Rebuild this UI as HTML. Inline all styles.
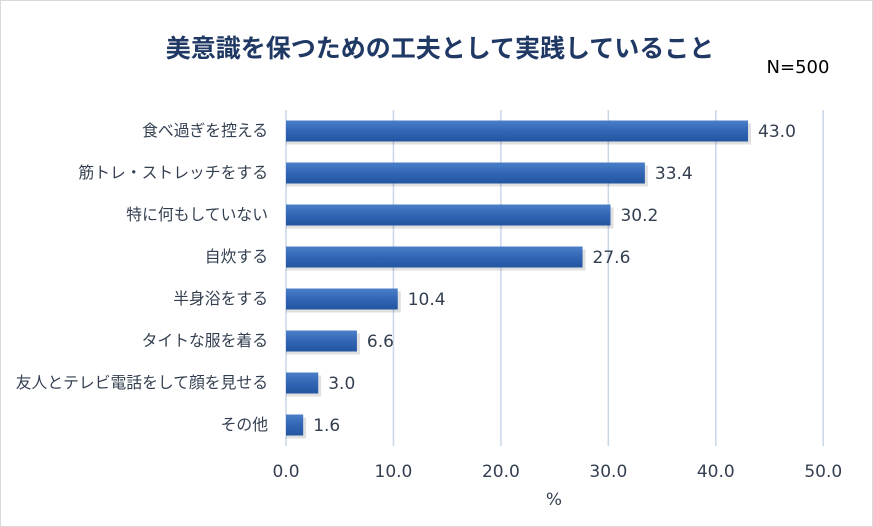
<!DOCTYPE html>
<html><head><meta charset="utf-8"><style>
body{margin:0;background:#fff;}
#c{position:relative;width:873px;height:527px;overflow:hidden;font-family:"Liberation Sans","Noto Sans CJK JP",sans-serif;}
svg text{font-family:"DejaVu Sans","Noto Sans CJK JP",sans-serif;}
</style></head><body>
<div id="c">
<svg id="s" width="873" height="527" xmlns="http://www.w3.org/2000/svg">
<defs>
<linearGradient id="g" x1="0" y1="0" x2="0" y2="1">
<stop offset="0" stop-color="#4a7fc8"/><stop offset="0.5" stop-color="#3266b5"/><stop offset="1" stop-color="#23559f"/>
</linearGradient>
</defs>
<rect x="0.5" y="0.5" width="872" height="526" fill="#fff" stroke="#d9d9d9"/>
<text x="440" y="57" text-anchor="middle" font-size="25" font-weight="bold" fill="#1f3864">美意識を保つための工夫として実践していること</text>
<text x="798" y="73" text-anchor="middle" font-size="18" fill="#000">N=500</text>
<g id="grid"></g><g id="bars"></g><g id="labels"></g>
<text x="554" y="505" text-anchor="middle" font-size="17" fill="#333f50">%</text>
</svg>
</div>
<script>
const categories=["食べ過ぎを控える","筋トレ・ストレッチをする","特に何もしていない","自炊する","半身浴をする","タイトな服を着る","友人とテレビ電話をして顔を見せる","その他"];
const values=[43.0,33.4,30.2,27.6,10.4,6.6,3.0,1.6];
const ticks=[0,10,20,30,40,50];
const tickLabels=["0.0","10.0","20.0","30.0","40.0","50.0"];
const NS="http://www.w3.org/2000/svg";
const x0=286,xs=10.745,yTop=110,yBot=446,step=42,bh=21;
const xf=v=>x0+v*xs;
const yf=i=>yTop+step*i+step/2;
function mk(t,a,p){const e=document.createElementNS(NS,t);for(const k in a)e.setAttribute(k,a[k]);p.appendChild(e);return e;}
const grid=document.getElementById('grid'),bars=document.getElementById('bars'),labels=document.getElementById('labels');
ticks.forEach((t,i)=>{
 const l=mk('line',{x1:xf(t),x2:xf(t),y1:yTop,y2:yBot,stroke:'#c9d7ea','stroke-width':1.5},grid);
 
 
 const tx=mk('text',{x:xf(t),y:477,'text-anchor':'middle','font-size':17,fill:'#333f50'},grid);
 tx.textContent=tickLabels[i];
 
 
});
values.forEach((v,i)=>{
 const y=yf(i);
 const sh=mk('rect',{x:x0,y:y-bh/2+3,width:xf(v)-x0+3,height:bh,fill:'#000',opacity:0.12},bars);
 
 
 const r=mk('rect',{x:x0,y:y-bh/2,width:xf(v)-x0,height:bh,fill:'url(#g)'},bars);
 
 
 const vt=mk('text',{x:xf(v)+10,y:y+6,'font-size':17,fill:'#333f50'},labels);
 vt.textContent=v.toFixed(1);
 
 
 const ct=mk('text',{x:268,y:y+5,'text-anchor':'end','font-size':15.8,fill:'#333f50'},labels);
 ct.textContent=categories[i];
 
 
});
</script>
</body></html>
